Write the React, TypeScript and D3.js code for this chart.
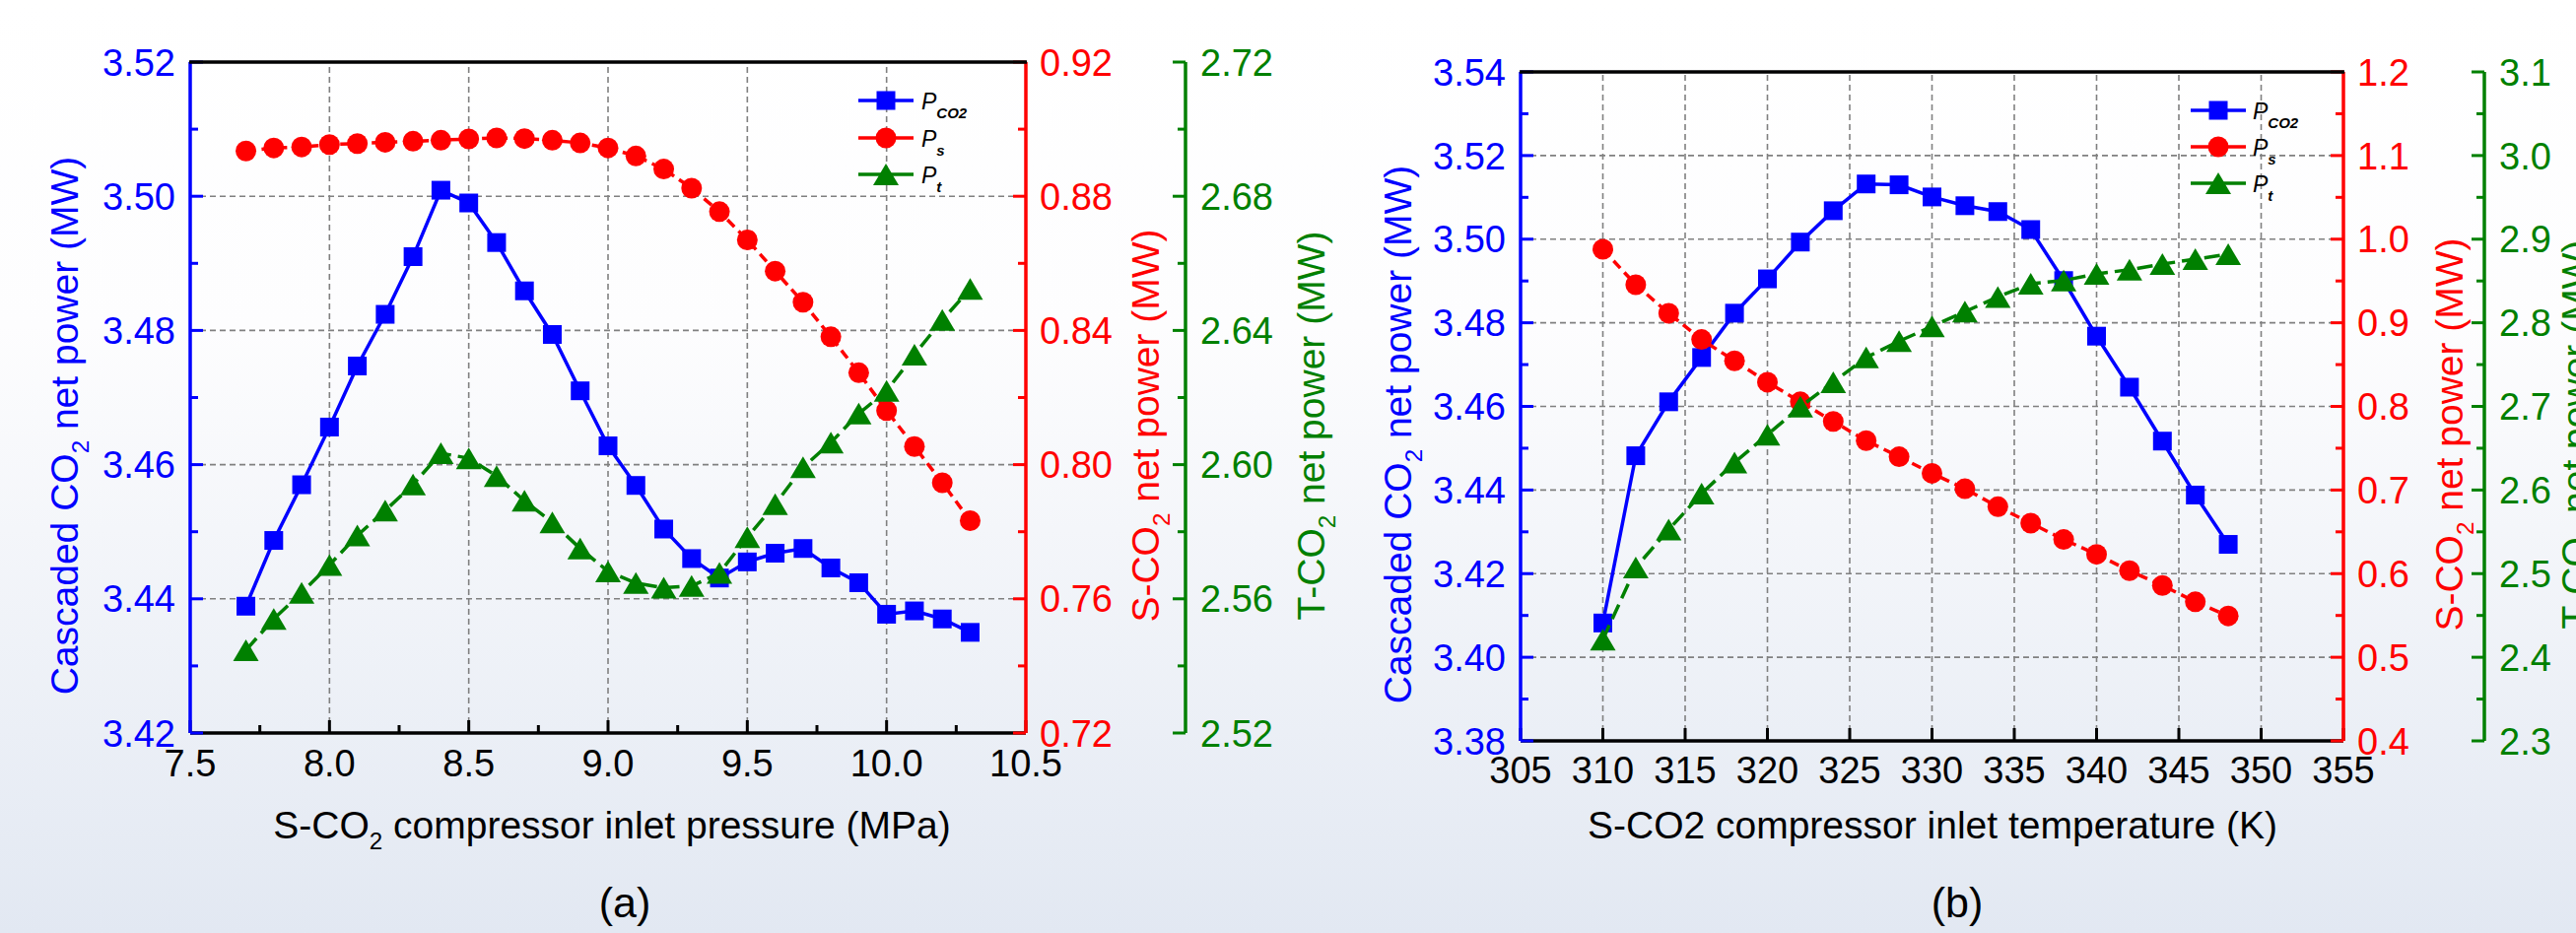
import React from 'react';
import * as d3 from 'd3';

// ---------------- Data: panel (a) ----------------
const pressure = [7.7, 7.8, 7.9, 8.0, 8.1, 8.2, 8.3, 8.4, 8.5, 8.6, 8.7, 8.8, 8.9, 9.0, 9.1, 9.2, 9.3, 9.4, 9.5, 9.6, 9.7, 9.8, 9.9, 10.0, 10.1, 10.2, 10.3];
const aPco2 = [3.4389, 3.4487, 3.4570, 3.4656, 3.4747, 3.4824, 3.4910, 3.5009, 3.4990, 3.4931, 3.4859, 3.4794, 3.4710, 3.4628, 3.4569, 3.4504, 3.4460, 3.4431, 3.4455, 3.4468, 3.4475, 3.4446, 3.4424, 3.4377, 3.4382, 3.4370, 3.4350];
const aPs = [0.8935, 0.8944, 0.8947, 0.8954, 0.8957, 0.8961, 0.8964, 0.8967, 0.8971, 0.8974, 0.8972, 0.8967, 0.8959, 0.8944, 0.8920, 0.8881, 0.8824, 0.8754, 0.8670, 0.8577, 0.8484, 0.8381, 0.8274, 0.8161, 0.8054, 0.7946, 0.7833];
const aPt = [2.5447, 2.5540, 2.5618, 2.5701, 2.5789, 2.5863, 2.5941, 2.6034, 2.6019, 2.5966, 2.5892, 2.5828, 2.5750, 2.5682, 2.5647, 2.5633, 2.5638, 2.5677, 2.5784, 2.5882, 2.5992, 2.6066, 2.6152, 2.6220, 2.6328, 2.6431, 2.6524];

const aXMajor = [7.5, 8.0, 8.5, 9.0, 9.5, 10.0, 10.5];
const aXMinor = [7.75, 8.25, 8.75, 9.25, 9.75, 10.25];
const aXGrid = [8.0, 8.5, 9.0, 9.5, 10.0];
const aBlueMajor = [3.42, 3.44, 3.46, 3.48, 3.50, 3.52];
const aBlueMinor = [3.43, 3.45, 3.47, 3.49, 3.51];
const aBlueGrid = [3.44, 3.46, 3.48, 3.50];
const aRedMajor = [0.72, 0.76, 0.80, 0.84, 0.88, 0.92];
const aRedMinor = [0.74, 0.78, 0.82, 0.86, 0.90];
const aGreenMajor = [2.52, 2.56, 2.60, 2.64, 2.68, 2.72];
const aGreenMinor = [2.54, 2.58, 2.62, 2.66, 2.70];

// ---------------- Data: panel (b) ----------------
const temperature = [310, 312, 314, 316, 318, 320, 322, 324, 326, 328, 330, 332, 334, 336, 338, 340, 342, 344, 346, 348];
const bPco2 = [3.4082, 3.4482, 3.4611, 3.4717, 3.4823, 3.4905, 3.4993, 3.5068, 3.5132, 3.5130, 3.5101, 3.5080, 3.5066, 3.5023, 3.4901, 3.4768, 3.4646, 3.4517, 3.4388, 3.4270];
const bPs = [0.9879, 0.9455, 0.9114, 0.8800, 0.8545, 0.8290, 0.8055, 0.7820, 0.7590, 0.7398, 0.7200, 0.7015, 0.6800, 0.6604, 0.6408, 0.6231, 0.6035, 0.5859, 0.5663, 0.5494];
const bPt = [2.4212, 2.5074, 2.5526, 2.5957, 2.6329, 2.6662, 2.6996, 2.7290, 2.7585, 2.7780, 2.7956, 2.8133, 2.8309, 2.8467, 2.8506, 2.8585, 2.8635, 2.8702, 2.8761, 2.8820];

const bXMajor = [305, 310, 315, 320, 325, 330, 335, 340, 345, 350, 355];
const bXMinor: number[] = [];
const bXGrid = [310, 315, 320, 325, 330, 335, 340, 345, 350];
const bBlueMajor = [3.38, 3.40, 3.42, 3.44, 3.46, 3.48, 3.50, 3.52, 3.54];
const bBlueMinor = [3.39, 3.41, 3.43, 3.45, 3.47, 3.49, 3.51, 3.53];
const bBlueGrid = [3.40, 3.42, 3.44, 3.46, 3.48, 3.50, 3.52];
const bRedMajor = [0.4, 0.5, 0.6, 0.7, 0.8, 0.9, 1.0, 1.1, 1.2];
const bRedMinor = [0.45, 0.55, 0.65, 0.75, 0.85, 0.95, 1.05, 1.15];
const bGreenMajor = [2.3, 2.4, 2.5, 2.6, 2.7, 2.8, 2.9, 3.0, 3.1];
const bGreenMinor = [2.35, 2.45, 2.55, 2.65, 2.75, 2.85, 2.95, 3.05];

const legendSubs = ['CO2', 's', 't'];

// ---------------- Styles ----------------
const BLUE = '#0000ff';
const RED = '#ff0000';
const GREEN = '#008000';
const GRID = '#808080';
const FONT = '"Liberation Sans", Arial, Helvetica, sans-serif';
const TICK_FS = 38;
const TITLE_FS = 39;
const AXW = 3.5;
const MAJ = 13;
const MIN = 8;

type Shape = 'square' | 'circle' | 'triangle';

function Marker({ shape, x, y, color }: { shape: Shape; x: number; y: number; color: string }) {
  if (shape === 'square') {
    const s = 19;
    return <rect x={x - s / 2} y={y - s / 2} width={s} height={s} fill={color} />;
  }
  if (shape === 'circle') {
    return <circle cx={x} cy={y} r={10.5} fill={color} />;
  }
  const w = 26, h = 22;
  return <path d={`M${x},${y - h / 2}L${x + w / 2},${y + h / 2}L${x - w / 2},${y + h / 2}Z`} fill={color} />;
}

interface PanelProps {
  box: { x0: number; x1: number; y0: number; y1: number; gx: number };
  xDomain: [number, number];
  xMajor: number[]; xMinor: number[]; xGrid: number[]; xFmt: (v: number) => string; xLabelY: number;
  blueDomain: [number, number]; blueMajor: number[]; blueMinor: number[]; blueGrid: number[]; blueFmt: (v: number) => string;
  redDomain: [number, number]; redMajor: number[]; redMinor: number[]; redFmt: (v: number) => string;
  greenDomain: [number, number]; greenMajor: number[]; greenMinor: number[]; greenFmt: (v: number) => string;
  xs: number[]; pco2: number[]; ps: number[]; pt: number[];
  titles: { blueX: number; redX: number; greenX: number; y: number; xTitleX: number; xTitleY: number; labelX: number; labelY: number };
  xTitle: React.ReactNode;
  label: string;
  legend: { lx0: number; lx1: number; tx: number; rows: number[] };
}

function RotTitle({ cx, cy, color, prefix }: { cx: number; cy: number; color: string; prefix: string }) {
  return (
    <text
      transform={`translate(${cx},${cy}) rotate(-90)`}
      y={TITLE_FS * 0.36}
      textAnchor="middle"
      fontFamily={FONT}
      fontSize={TITLE_FS}
      fill={color}
    >
      <tspan>{prefix}CO</tspan>
      <tspan fontSize={TITLE_FS * 0.62} dy={TITLE_FS * 0.28}>2</tspan>
      <tspan dy={-TITLE_FS * 0.28}> net power (MW)</tspan>
    </text>
  );
}

function Panel(p: PanelProps) {
  const { x0, x1, y0, y1, gx } = p.box;
  const x = d3.scaleLinear().domain(p.xDomain).range([x0, x1]);
  const yB = d3.scaleLinear().domain(p.blueDomain).range([y1, y0]);
  const yR = d3.scaleLinear().domain(p.redDomain).range([y1, y0]);
  const yG = d3.scaleLinear().domain(p.greenDomain).range([y1, y0]);

  const lineB = d3.line<number>().x((_, i) => x(p.xs[i])).y((d) => yB(d));
  const lineR = d3.line<number>().x((_, i) => x(p.xs[i])).y((d) => yR(d));
  const lineG = d3.line<number>().x((_, i) => x(p.xs[i])).y((d) => yG(d));

  const series = [
    { vals: p.pco2, line: lineB, y: yB, color: BLUE, shape: 'square' as Shape, dash: undefined as string | undefined },
    { vals: p.ps, line: lineR, y: yR, color: RED, shape: 'circle' as Shape, dash: '10,6' },
    { vals: p.pt, line: lineG, y: yG, color: GREEN, shape: 'triangle' as Shape, dash: '16,7' },
  ];

  return (
    <g>
      {/* grid */}
      {p.xGrid.map((v) => (
        <line key={'gx' + v} x1={x(v)} x2={x(v)} y1={y1} y2={y0} stroke={GRID} strokeWidth={1.6} strokeDasharray="6,4" />
      ))}
      {p.blueGrid.map((v) => (
        <line key={'gy' + v} x1={x0} x2={x1} y1={yB(v)} y2={yB(v)} stroke={GRID} strokeWidth={1.6} strokeDasharray="6,4" />
      ))}

      {/* series */}
      {series.map((s, si) => (
        <g key={'s' + si}>
          <path d={s.line(s.vals) || ''} fill="none" stroke={s.color} strokeWidth={3.5} strokeDasharray={s.dash} />
          {s.vals.map((v, i) => (
            <Marker key={i} shape={s.shape} x={x(p.xs[i])} y={s.y(v)} color={s.color} />
          ))}
        </g>
      ))}

      {/* x axis */}
      <line x1={x0} x2={x1} y1={y1} y2={y1} stroke="#000" strokeWidth={AXW} />
      {p.xMajor.map((v) => (
        <line key={'xM' + v} x1={x(v)} x2={x(v)} y1={y1} y2={y1 - MAJ} stroke="#000" strokeWidth={3} />
      ))}
      {p.xMinor.map((v) => (
        <line key={'xm' + v} x1={x(v)} x2={x(v)} y1={y1} y2={y1 - MIN} stroke="#000" strokeWidth={3} />
      ))}
      {p.xMajor.map((v) => (
        <text key={'xl' + v} x={x(v)} y={p.xLabelY} textAnchor="middle" fontFamily={FONT} fontSize={TICK_FS} fill="#000">
          {p.xFmt(v)}
        </text>
      ))}

      {/* blue left axis */}
      <line x1={x0} x2={x0} y1={y0} y2={y1} stroke={BLUE} strokeWidth={AXW} />
      {p.blueMajor.map((v) => (
        <line key={'bM' + v} x1={x0} x2={x0 + MAJ} y1={yB(v)} y2={yB(v)} stroke={BLUE} strokeWidth={3} />
      ))}
      {p.blueMinor.map((v) => (
        <line key={'bm' + v} x1={x0} x2={x0 + MIN} y1={yB(v)} y2={yB(v)} stroke={BLUE} strokeWidth={3} />
      ))}
      {p.blueMajor.map((v) => (
        <text key={'bl' + v} x={x0 - 15} y={yB(v) + TICK_FS * 0.36} textAnchor="end" fontFamily={FONT} fontSize={TICK_FS} fill={BLUE}>
          {p.blueFmt(v)}
        </text>
      ))}

      {/* red right axis */}
      <line x1={x1} x2={x1} y1={y0} y2={y1} stroke={RED} strokeWidth={AXW} />
      {p.redMajor.map((v) => (
        <line key={'rM' + v} x1={x1} x2={x1 - MAJ} y1={yR(v)} y2={yR(v)} stroke={RED} strokeWidth={3} />
      ))}
      {p.redMinor.map((v) => (
        <line key={'rm' + v} x1={x1} x2={x1 - MIN} y1={yR(v)} y2={yR(v)} stroke={RED} strokeWidth={3} />
      ))}
      {p.redMajor.map((v) => (
        <text key={'rl' + v} x={x1 + 14} y={yR(v) + TICK_FS * 0.36} textAnchor="start" fontFamily={FONT} fontSize={TICK_FS} fill={RED}>
          {p.redFmt(v)}
        </text>
      ))}

      {/* green offset axis */}
      <line x1={gx} x2={gx} y1={y0} y2={y1} stroke={GREEN} strokeWidth={AXW} />
      {p.greenMajor.map((v) => (
        <line key={'gM' + v} x1={gx} x2={gx - MAJ} y1={yG(v)} y2={yG(v)} stroke={GREEN} strokeWidth={3} />
      ))}
      {p.greenMinor.map((v) => (
        <line key={'gm' + v} x1={gx} x2={gx - MIN} y1={yG(v)} y2={yG(v)} stroke={GREEN} strokeWidth={3} />
      ))}
      {p.greenMajor.map((v) => (
        <text key={'gl' + v} x={gx + 15} y={yG(v) + TICK_FS * 0.36} textAnchor="start" fontFamily={FONT} fontSize={TICK_FS} fill={GREEN}>
          {p.greenFmt(v)}
        </text>
      ))}

      {/* top border */}
      <line x1={x0 - 1} x2={x1 + 1} y1={y0} y2={y0} stroke="#000" strokeWidth={AXW} />

      {/* axis titles */}
      <RotTitle cx={p.titles.blueX} cy={p.titles.y} color={BLUE} prefix="Cascaded " />
      <RotTitle cx={p.titles.redX} cy={p.titles.y} color={RED} prefix="S-" />
      <RotTitle cx={p.titles.greenX} cy={p.titles.y} color={GREEN} prefix="T-" />

      <text x={p.titles.xTitleX} y={p.titles.xTitleY} textAnchor="middle" fontFamily={FONT} fontSize={TITLE_FS} fill="#000">
        {p.xTitle}
      </text>
      <text x={p.titles.labelX} y={p.titles.labelY} textAnchor="middle" fontFamily={FONT} fontSize={43} fill="#000">
        {p.label}
      </text>

      {/* legend */}
      {series.map((s, i) => {
        const ry = p.legend.rows[i];
        const mx = (p.legend.lx0 + p.legend.lx1) / 2;
        return (
          <g key={'lg' + i}>
            <line x1={p.legend.lx0} x2={p.legend.lx1} y1={ry} y2={ry} stroke={s.color} strokeWidth={3.5} />
            <Marker shape={s.shape} x={mx} y={ry} color={s.color} />
            <text x={p.legend.tx} y={ry + 9} fontFamily={FONT} fontSize={23} fontStyle="italic" fill="#000">
              P
              <tspan fontSize={15} fontWeight="bold" dy={9}>{legendSubs[i]}</tspan>
            </text>
          </g>
        );
      })}
    </g>
  );
}

export default function App() {
  const f1 = d3.format('.1f');
  const f2 = d3.format('.2f');
  const f0 = d3.format('d');
  return (
    <svg
      width={2614}
      height={947}
      viewBox="0 0 2614 947"
      style={{ position: 'absolute', left: 0, top: 0, display: 'block' }}
    >
      <defs>
        <linearGradient id="bg" x1="0" y1="0" x2="0" y2="1">
          <stop offset="0" stopColor="#ffffff" />
          <stop offset="0.35" stopColor="#fdfdfe" />
          <stop offset="1" stopColor="#e2e8f2" />
        </linearGradient>
      </defs>
      <rect x={0} y={0} width={2614} height={947} fill="url(#bg)" />

      <Panel
        box={{ x0: 193, x1: 1041, y0: 63, y1: 744, gx: 1203 }}
        xDomain={[7.5, 10.5]}
        xMajor={aXMajor}
        xMinor={aXMinor}
        xGrid={aXGrid}
        xFmt={f1}
        xLabelY={788}
        blueDomain={[3.42, 3.52]}
        blueMajor={aBlueMajor}
        blueMinor={aBlueMinor}
        blueGrid={aBlueGrid}
        blueFmt={f2}
        redDomain={[0.72, 0.92]}
        redMajor={aRedMajor}
        redMinor={aRedMinor}
        redFmt={f2}
        greenDomain={[2.52, 2.72]}
        greenMajor={aGreenMajor}
        greenMinor={aGreenMinor}
        greenFmt={f2}
        xs={pressure}
        pco2={aPco2}
        ps={aPs}
        pt={aPt}
        titles={{ blueX: 65, redX: 1162, greenX: 1330, y: 432, xTitleX: 621, xTitleY: 851, labelX: 634, labelY: 931 }}
        xTitle={
          <>
            <tspan>S-CO</tspan>
            <tspan fontSize={TITLE_FS * 0.62} dy={TITLE_FS * 0.28}>2</tspan>
            <tspan dy={-TITLE_FS * 0.28}> compressor inlet pressure (MPa)</tspan>
          </>
        }
        label="(a)"
        legend={{ lx0: 871, lx1: 927, tx: 935, rows: [102, 140, 177] }}
      />

      <Panel
        box={{ x0: 1543, x1: 2378, y0: 73, y1: 752, gx: 2521 }}
        xDomain={[305, 355]}
        xMajor={bXMajor}
        xMinor={bXMinor}
        xGrid={bXGrid}
        xFmt={f0}
        xLabelY={795}
        blueDomain={[3.38, 3.54]}
        blueMajor={bBlueMajor}
        blueMinor={bBlueMinor}
        blueGrid={bBlueGrid}
        blueFmt={f2}
        redDomain={[0.4, 1.2]}
        redMajor={bRedMajor}
        redMinor={bRedMinor}
        redFmt={f1}
        greenDomain={[2.3, 3.1]}
        greenMajor={bGreenMajor}
        greenMinor={bGreenMinor}
        greenFmt={f1}
        xs={temperature}
        pco2={bPco2}
        ps={bPs}
        pt={bPt}
        titles={{ blueX: 1418, redX: 2485, greenX: 2613, y: 441, xTitleX: 1961, xTitleY: 851, labelX: 1986, labelY: 931 }}
        xTitle={<tspan>S-CO2 compressor inlet temperature (K)</tspan>}
        label="(b)"
        legend={{ lx0: 2223, lx1: 2279, tx: 2286, rows: [112, 149, 186] }}
      />
    </svg>
  );
}
